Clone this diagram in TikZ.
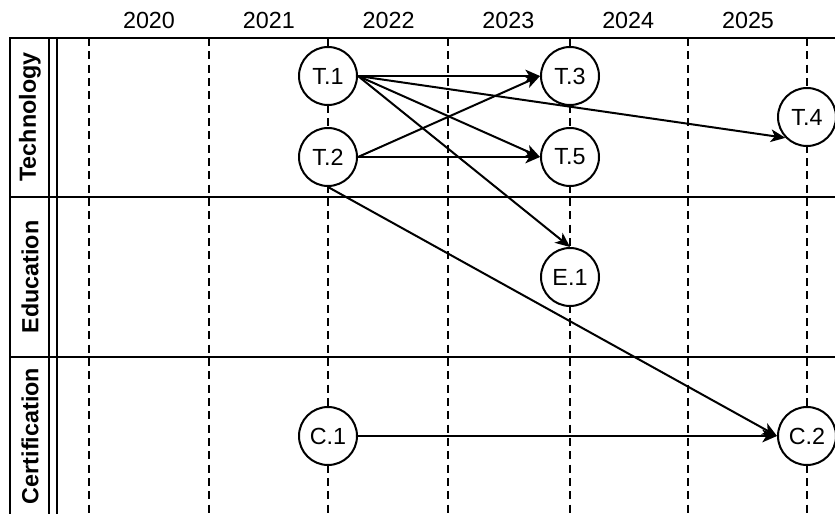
\documentclass[tikz,border=0pt]{standalone}
\usepackage{fontspec}
\setmainfont{Liberation Sans}
\usetikzlibrary{arrows.meta}

\begin{document}
\begin{tikzpicture}[x=0.75pt, y=-0.75pt,
    event/.style={draw, circle, line width=1.5pt, fill=white, minimum size=43.5pt, inner sep=0pt, font=\fontsize{17.5}{20}\selectfont},
    lanelabel/.style={rotate=90, font=\bfseries\fontsize{17.5}{20}\selectfont},
    yearlabel/.style={font=\fontsize{17.5}{20}\selectfont},
    yearline/.style={line width=1.5pt, dash pattern=on 6pt off 4pt},
    border/.style={line width=1.5pt},
    link/.style={line width=1.5pt, -{Stealth[length=11pt, width=9.5pt, inset=3pt]}}]
        \useasboundingbox (0,0) rectangle (835,514);
        % Define the positions of the year lines
        \def\yearlines{89,209,328,448,570,688,807}
        % Define the distance between year labels
        \newcommand\DistYears{119.8}

        % Draw the dashed year lines
        \foreach \x in \yearlines {
          \draw[yearline] (\x,38) -- (\x,514);
        }

        % Add the year labels between the lines
        \foreach \yr [count=\i from 0] in {2020,...,2025} {
          \pgfmathsetmacro\Shift{149+\i*\DistYears}
          \node[yearlabel] (y\yr) at (\Shift,20) {\yr};
        }

        % Draw the lane borders
        \draw[border] (835,38) -- (10,38) -- (10,514);
        \draw[border] (49,38) -- (49,514);
        \draw[border] (57,38) -- (57,514);
        \foreach \ly in {197,357} {
          \draw[border] (10,\ly) -- (835,\ly);
        }

        % Add the lane labels
        \node[lanelabel] (tech) at (30,117) {Technology};
        \node[lanelabel] (edu) at (30,277) {Education};
        \node[lanelabel] (cert) at (30,436) {Certification};

        % Place the events
        \node[event] (T1) at (328,76) {T.1};
        \node[event] (T2) at (328,157) {T.2};
        \node[event] (T3) at (570,76) {T.3};
        \node[event] (T5) at (570,157) {T.5};
        \node[event] (T4) at (807,117) {T.4};
        \node[event] (E1) at (570,277) {E.1};
        \node[event] (C1) at (328,436) {C.1};
        \node[event] (C2) at (807,436) {C.2};

        % Connect the events
        \draw[link] (T1.east) -- (T3.west);
        \draw[link] (T1.east) -- (T4.224);
        \draw[link] (T1.east) -- (T5.west);
        \draw[link] (T1.east) -- (E1.north);
        \draw[link] (T2.east) -- (T3.west);
        \draw[link] (T2.east) -- (T5.west);
        \draw[link] (T2.south) -- (C2.west);
        \draw[link] (C1.east) -- (C2.west);
      \end{tikzpicture}
\end{document}
